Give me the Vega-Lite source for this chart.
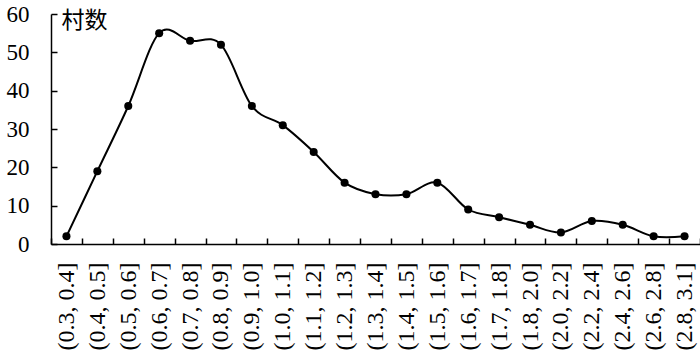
{
  "$schema": "https://vega.github.io/schema/vega-lite/v6.json",
  "width": 649,
  "height": 230,
  "autosize": "none",
  "padding": {"left": 51, "top": 14, "right": 0, "bottom": 117},
  "background": "white",
  "config": {"view": {"stroke": null}},
  "data": {"values": [
    {"range": "(0.3, 0.4]", "count": 2},
    {"range": "(0.4, 0.5]", "count": 19},
    {"range": "(0.5, 0.6]", "count": 36},
    {"range": "(0.6, 0.7]", "count": 55},
    {"range": "(0.7, 0.8]", "count": 53},
    {"range": "(0.8, 0.9]", "count": 52},
    {"range": "(0.9, 1.0]", "count": 36},
    {"range": "(1.0, 1.1]", "count": 31},
    {"range": "(1.1, 1.2]", "count": 24},
    {"range": "(1.2, 1.3]", "count": 16},
    {"range": "(1.3, 1.4]", "count": 13},
    {"range": "(1.4, 1.5]", "count": 13},
    {"range": "(1.5, 1.6]", "count": 16},
    {"range": "(1.6, 1.7]", "count": 9},
    {"range": "(1.7, 1.8]", "count": 7},
    {"range": "(1.8, 2.0]", "count": 5},
    {"range": "(2.0, 2.2]", "count": 3},
    {"range": "(2.2, 2.4]", "count": 6},
    {"range": "(2.4, 2.6]", "count": 5},
    {"range": "(2.6, 2.8]", "count": 2},
    {"range": "(2.8, 3.1]", "count": 2}
  ]},
  "encoding": {
    "x": {
      "field": "range", "type": "nominal", "sort": null,
      "scale": {"type": "band", "paddingInner": 0, "paddingOuter": 0},
      "axis": {
        "title": null, "labelAngle": -90, "tickBand": "extent",
        "tickSize": -6, "labelPadding": 24, "domainColor": "black", "tickColor": "black",
        "domainWidth": 1.5, "tickWidth": 1.5,
        "labelFont": "Liberation Serif", "labelFontSize": 24, "labelColor": "black"
      }
    },
    "y": {
      "field": "count", "type": "quantitative",
      "scale": {"domain": [0, 60], "nice": false},
      "axis": {
        "values": [0, 10, 20, 30, 40, 50, 60], "grid": false,
        "tickSize": -6, "labelPadding": 28, "domainColor": "black", "tickColor": "black",
        "domainWidth": 1.5, "tickWidth": 1.5,
        "labelFont": "Liberation Serif", "labelFontSize": 23, "labelColor": "black",
        "title": "村数", "titleAngle": 0, "titleAlign": "left", "titleBaseline": "alphabetic",
        "titleX": 10, "titleY": 13, "titleFont": "Noto Sans CJK SC", "titleFontSize": 23,
        "titleFontWeight": "normal", "titleColor": "black"
      }
    }
  },
  "layer": [
    {"mark": {"type": "line", "interpolate": "cardinal", "color": "black", "strokeWidth": 2}},
    {"mark": {"type": "point", "filled": true, "color": "black", "size": 65, "opacity": 1}}
  ]
}
